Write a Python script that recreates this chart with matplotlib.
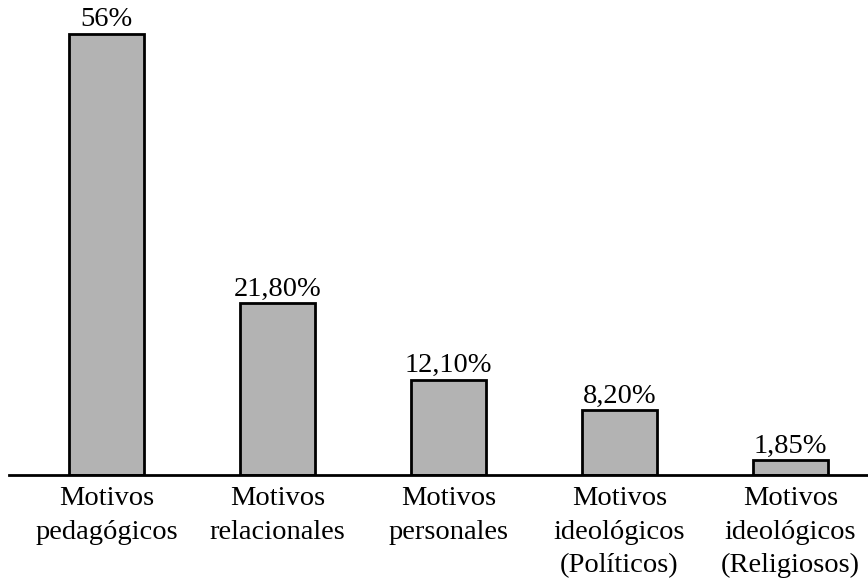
import matplotlib.pyplot as plt
import numpy as np

plt.rcParams['font.family'] = ['Liberation Serif', 'DejaVu Serif']

# Data
categories = ['Motivos\npedagógicos', 'Motivos\nrelacionales', 'Motivos\npersonales',
              'Motivos\nideológicos\n(Políticos)', 'Motivos\nideológicos\n(Religiosos)']
values = [56, 21.8, 12.1, 8.2, 1.85]
value_labels = ['56%', '21,80%', '12,10%', '8,20%', '1,85%']

fig = plt.figure(figsize=(8.68, 5.81), dpi=100)
ax = fig.add_axes([9 / 868, 106 / 581, 859 / 868, 473 / 581])

x = np.arange(len(values))
bars = ax.bar(x, values, width=0.44, color='#b3b3b3', edgecolor='black', linewidth=2)

# value labels above the bars
for b, lab in zip(bars, value_labels):
    ax.annotate(lab, (b.get_x() + b.get_width() / 2, b.get_height()),
                xytext=(0, 1), textcoords='offset points',
                ha='center', va='bottom', fontsize=20.5)

ax.set_xlim(-0.570, 4.453)
ax.set_ylim(0, 60)
ax.set_xticks(x)
ax.set_xticklabels(categories, fontsize=20.5, linespacing=1.45)
ax.tick_params(axis='x', length=0, pad=8)
ax.set_yticks([])
for s in ['top', 'right', 'left']:
    ax.spines[s].set_visible(False)
ax.spines['bottom'].set_linewidth(2)

fig.savefig('out.png', dpi=100)
